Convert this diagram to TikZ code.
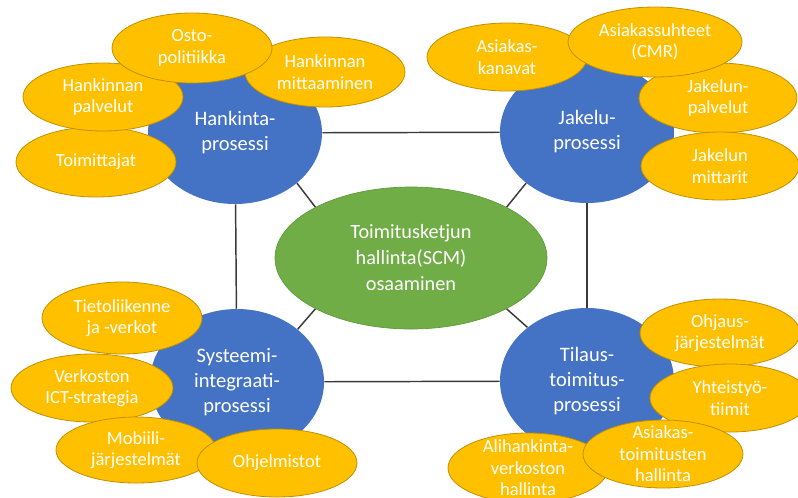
\documentclass[tikz,border=0pt]{standalone}
\usepackage{fontspec}
\setmainfont{Carlito}
\usetikzlibrary{shapes.geometric,backgrounds}

\definecolor{procblue}{HTML}{4472C4}
\definecolor{coregreen}{HTML}{70AD47}
\definecolor{coreedge}{HTML}{5E9A3A}
\definecolor{skillgold}{HTML}{FFC000}
\definecolor{skilledge}{HTML}{C09000}
\definecolor{linkgray}{HTML}{3A3A3A}

\begin{document}
\begin{tikzpicture}[x=0.75pt,y=-0.75pt,
  link/.style={draw=linkgray, line width=1.1pt},
  core/.style={ellipse, fill=coregreen, draw=coreedge, line width=0.5pt,
    inner sep=0pt, minimum width=204pt, minimum height=106.5pt},
  proc/.style={ellipse, fill=procblue, inner sep=0pt,
    minimum width=130.5pt, minimum height=#1},
  proc/.default=106.5pt,
  bubble/.style={ellipse, fill=skillgold, draw=skilledge, line width=0.6pt,
    inner sep=0pt, minimum width=120pt, minimum height=52pt},
  coretext/.style={text=white, align=center, font=\fontsize{15.2}{19.5}\selectfont},
  proctext/.style={text=white, align=center, font=\fontsize{15.4}{18.75}\selectfont},
  bubbletext/.style={text=white, align=center, font=\fontsize{13.9}{16.2}\selectfont},
]
\useasboundingbox (0,0) rectangle (798,497);
\clip (0,0) rectangle (798,497);

% centre and the four process circles
\node[core, label={[coretext]center:{Toimitusketjun\\hallinta(SCM)\\osaaminen}}] (scm) at (411,258) {};
\node[proc, label={[proctext]center:{Hankinta-\\prosessi}}] (hank) at (235,133) {};
\node[proc, label={[proctext]center:{Jakelu-\\prosessi}}] (jak) at (587,132) {};
\node[proc=109.5pt, label={[proctext]center:{Systeemi-\\integraati-\\prosessi}}] (sys) at (237,382) {};
\node[proc=109.5pt, label={[proctext]center:{Tilaus-\\toimitus-\\prosessi}}] (til) at (587,381) {};

% connectors, kept behind the shapes
\begin{pgfonlayer}{background}
\draw[link] (hank) -- (jak);
\draw[link] (hank) -- (sys);
\draw[link] (jak) -- (til);
\draw[link] (sys) -- (til);
\draw[link] (scm.152) -- (hank.-39);
\draw[link] (scm.28) -- (jak.-140);
\draw[link] (scm.208) -- (sys.41);
\draw[link] (scm.-28) -- (til.138);
\end{pgfonlayer}

% Hankinta
\node[bubble, minimum height=52.5pt, label={[bubbletext]center:{Toimittajat}}] (toim) at (96,162) {};
\node[bubble, minimum height=51pt, label={[bubbletext]center:{Hankinnan\\palvelut}}] (hpalv) at (103,97) {};
\node[bubble, minimum height=52.5pt, label={[bubbletext]center:{Hankinnan\\mittaaminen}}] (hmitt) at (325,72) {};
\node[bubble, minimum height=52.5pt, label={[bubbletext]center:{Osto-\\politiikka}}] (osto) at (192,48) {};

% Jakelu
\node[bubble, minimum width=118.5pt, minimum height=52.5pt, label={[bubbletext]center:{Jakelun-\\palvelut}}] (jpalv) at (718,98) {};
\node[bubble, minimum width=118.5pt, minimum height=51pt, label={[bubbletext]center:{Jakelun\\mittarit}}] (jmitt) at (720,166) {};
\node[bubble, minimum height=51pt, label={[bubbletext]center:{Asiakas-\\kanavat}}] (kanav) at (507,57) {};
\node[bubble, minimum width=130.5pt, minimum height=52.5pt, label={[bubbletext]center:{Asiakassuhteet\\(CMR)}}] (cmr) at (655,42) {};

% Systeemi-integraati
\node[bubble, minimum height=54pt, label={[bubbletext]center:{Tietoliikenne\\ja -verkot}}] (tieto) at (122,318) {};
\node[bubble, minimum width=121.5pt, minimum height=51pt, label={[bubbletext]center:{Verkoston\\ICT-strategia}}] (ict) at (92,388) {};
\node[bubble, minimum height=49.5pt, label={[bubbletext]center:{Mobiili-\\järjestelmät}}] (mobi) at (136,450) {};
\node[bubble, minimum height=51pt, label={[bubbletext]center:{Ohjelmistot}}] (ohjelm) at (277,463) {};

% Tilaus-toimitus
\node[bubble, minimum height=51pt, label={[bubbletext]center:{Ohjaus-\\järjestelmät}}] (ohjaus) at (720,333) {};
\node[bubble, minimum height=51pt, label={[bubbletext]center:{Yhteistyö-\\tiimit}}] (yht) at (730,398) {};
\node[bubble, minimum height=52.5pt, label={[bubbletext]center:{Alihankinta-\\verkoston\\hallinta}}] (aliha) at (528,468) {};
\node[bubble, minimum height=51pt, label={[bubbletext]center:{Asiakas-\\toimitusten\\hallinta}}] (asiak) at (663,454) {};
\end{tikzpicture}
\end{document}
